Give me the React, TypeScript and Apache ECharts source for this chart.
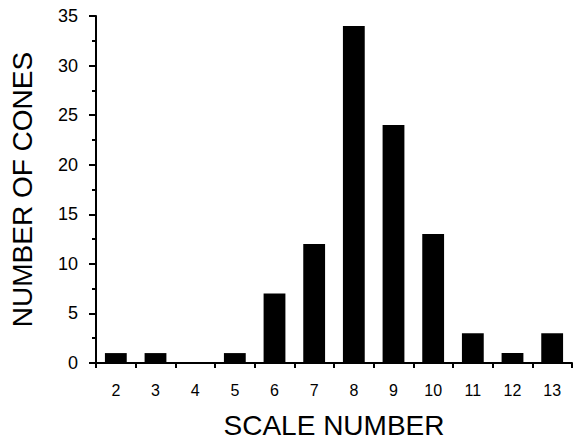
import React, { useEffect, useRef } from "react";
import * as echarts from "echarts";

const categories = ["2", "3", "4", "5", "6", "7", "8", "9", "10", "11", "12", "13"];
const counts = [1, 1, 0, 1, 7, 12, 34, 24, 13, 3, 1, 3];
const xTitle = "SCALE NUMBER";
const yTitle = "NUMBER OF CONES";

export default function App() {
  const ref = useRef<HTMLDivElement>(null);
  useEffect(() => {
    document.body.style.margin = "0";
    if (!ref.current) return;
    const chart = echarts.init(ref.current, null, { renderer: "svg" });
    const font = "'Liberation Sans', Arial, Helvetica, sans-serif";
    chart.setOption({
      animation: false,
      backgroundColor: "#fff",
      grid: { left: 92, top: 16, right: 1, bottom: 79, containLabel: false },
      xAxis: {
        type: "category",
        data: categories,
        boundaryGap: true,
        axisLine: { show: true, lineStyle: { color: "#000", width: 2 } },
        axisTick: { show: true, alignWithLabel: false, length: 5, lineStyle: { color: "#000", width: 2 } },
        axisLabel: { color: "#000", fontSize: 16, fontFamily: font, margin: 19 },
        splitLine: { show: false },
        name: xTitle,
        nameLocation: "middle",
        nameGap: 48,
        nameTextStyle: { color: "#000", fontSize: 28, fontFamily: font, verticalAlign: "top" },
      },
      yAxis: {
        type: "value",
        min: 0,
        max: 35,
        interval: 5,
        axisLine: { show: true, lineStyle: { color: "#000", width: 2 } },
        axisTick: { show: true, length: 7, lineStyle: { color: "#000", width: 2 } },
        minorTick: { show: true, splitNumber: 2, length: 4, lineStyle: { color: "#000", width: 2 } },
        axisLabel: { color: "#000", fontSize: 18, fontFamily: font, margin: 18 },
        splitLine: { show: false },
        minorSplitLine: { show: false },
        name: yTitle,
        nameLocation: "middle",
        nameGap: 60,
        nameTextStyle: { color: "#000", fontSize: 28, fontFamily: font },
      },
      series: [
        {
          type: "bar",
          data: counts,
          barWidth: "55%",
          itemStyle: { color: "#000" },
        },
      ],
    });
    return () => chart.dispose();
  }, []);
  return <div ref={ref} style={{ width: 573, height: 444 }} />;
}
